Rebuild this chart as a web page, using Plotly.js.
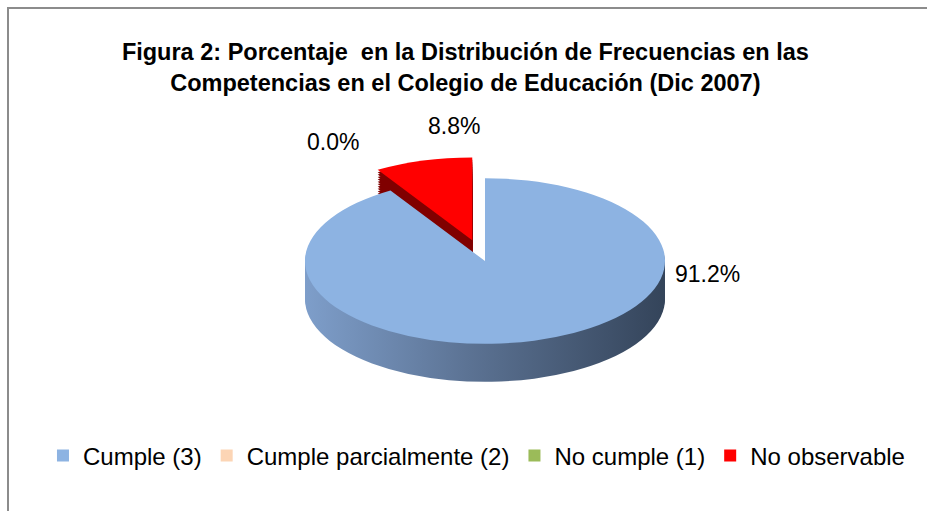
<!DOCTYPE html>
<html>
<head>
<meta charset="utf-8">
<script src="https://cdn.plot.ly/plotly-3.0.1.min.js"></script>
<style>
html,body{margin:0;padding:0;background:#fff;}
#frame{position:absolute;left:0;top:0;width:927px;height:511px;overflow:hidden;}
#border{position:absolute;left:7px;top:7px;width:940px;height:520px;border-left:2px solid #8c8c8c;border-top:2px solid #8c8c8c;pointer-events:none;}
#chart{position:absolute;left:0;top:0;width:927px;height:511px;}
</style>
</head>
<body>
<div id="frame">
<div id="chart"></div>
<div id="border"></div>
</div>
<script>
// ---- data ----
const categories = ["Cumple (3)", "Cumple parcialmente (2)", "No cumple (1)", "No observable"];
const values = [91.2, 0.0, 0.0, 8.8];
const labelTexts = ["91.2%", "", "0.0%", "8.8%"];
const colors = ["#8DB3E2", "#FCD5B5", "#9BBB59", "#FF0000"];
const sideColors = ["rgb(90, 112, 145)", "#B09070", "#4F6228", "#800000"];
const pulls = [0, 0, 0.26, 0.26];

// ---- geometry (layout only) ----
const W = 927, H = 511;
const cxF = 485, cyF = 261;   // final centre of the top face
const rx = 180;               // horizontal radius
const squash = 0.46;          // vertical squash for the tilted look
const depthPx = 38;           // visible side depth after squash
const maxPull = Math.max(...pulls);
const D = 2 * rx * (1 + maxPull);
const y0 = H / 2;             // pre-squash centre
const preDepth = depthPx / squash;
const nLayers = 16;

const dom = {x: [(cxF - D / 2) / W, (cxF + D / 2) / W], y: [(H - y0 - D / 2) / H, (H - y0 + D / 2) / H]};

const traces = [];
for (let k = nLayers; k >= 1; k--) {
  traces.push({
    type: "pie", labels: categories, values: values, sort: false,
    direction: "clockwise", rotation: 0, pull: pulls, textinfo: "none",
    hoverinfo: "skip", showlegend: false,
    marker: {colors: sideColors, line: {width: 0}},
    domain: dom
  });
}
traces.push({
  type: "pie", labels: categories, values: values, sort: false,
  direction: "clockwise", rotation: 0, pull: pulls, textinfo: "none",
  hoverinfo: "label+percent", showlegend: true,
  marker: {colors: colors, line: {width: 0}},
  domain: dom
});

const labelFont = {family: "Liberation Sans, Arial, sans-serif", size: 23, color: "#000"};
const labelPos = [[707, 274], null, [333, 142], [454, 126]];
const annotations = [];
labelTexts.forEach((t, i) => {
  if (!t || !labelPos[i]) return;
  annotations.push({
    text: t, showarrow: false, xref: "paper", yref: "paper",
    x: labelPos[i][0] / W, y: 1 - labelPos[i][1] / H,
    xanchor: "center", yanchor: "middle", font: labelFont
  });
});

const layout = {
  width: W, height: H,
  margin: {l: 0, r: 0, t: 0, b: 0},
  paper_bgcolor: "#ffffff",
  title: {
    text: "<b>Figura 2: Porcentaje  en la Distribución de Frecuencias en las<br>Competencias en el Colegio de Educación (Dic 2007)</b>",
    font: {family: "Liberation Sans, Arial, sans-serif", size: 23.5, color: "#000"},
    x: 0.502, xanchor: "center", y: 1 - 60 / H, yanchor: "middle", yref: "container"
  },
  annotations: annotations,
  showlegend: true,
  legend: {
    orientation: "h", x: 0.514, xanchor: "center", y: 1 - 456 / H, yanchor: "middle",
    font: {family: "Liberation Sans, Arial, sans-serif", size: 24, color: "#000"},
    traceorder: "normal", itemwidth: 30
  }
};

Plotly.newPlot("chart", traces, layout, {displayModeBar: false, staticPlot: true}).then(gd => {
  const svg = gd.querySelector("svg.main-svg");
  const ns = "http://www.w3.org/2000/svg";
  let defs = svg.querySelector("defs");
  if (!defs) { defs = document.createElementNS(ns, "defs"); svg.insertBefore(defs, svg.firstChild); }
  const grad = document.createElementNS(ns, "linearGradient");
  grad.setAttribute("id", "sideGrad");
  grad.setAttribute("gradientUnits", "userSpaceOnUse");
  grad.setAttribute("x1", cxF - rx); grad.setAttribute("x2", cxF + rx);
  grad.setAttribute("y1", 0); grad.setAttribute("y2", 0);
  [["0", "#7E9ECA"], ["0.45", "#5C7394"], ["1", "#34445A"]].forEach(([o, c]) => {
    const st = document.createElementNS(ns, "stop");
    st.setAttribute("offset", o); st.setAttribute("stop-color", c);
    grad.appendChild(st);
  });
  defs.appendChild(grad);

  const pl = svg.querySelector(".pielayer");
  pl.setAttribute("transform", `translate(0, ${cyF - squash * y0}) scale(1, ${squash})`);
  const groups = pl.querySelectorAll("g.trace");
  groups.forEach((g, gi) => {
    if (gi === groups.length - 1) return;
    const k = nLayers - gi;
    g.setAttribute("transform", `translate(0, ${preDepth * k / nLayers})`);
    g.querySelectorAll("path.surface").forEach(p => {
      if ((p.style.fill || "").replace(/\s/g, "") === "rgb(90,112,145)") p.style.fill = "url(#sideGrad)";
    });
  });
});
</script>
</body>
</html>
